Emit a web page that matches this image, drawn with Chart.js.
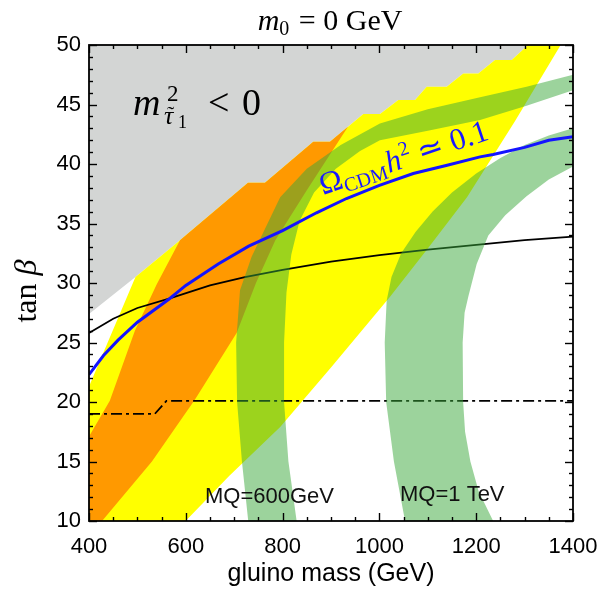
<!DOCTYPE html>
<html>
<head>
<meta charset="utf-8">
<script src="https://cdn.jsdelivr.net/npm/chart.js@4.4.1/dist/chart.umd.min.js"></script>
<style>
html,body{margin:0;padding:0;background:#fff;}
canvas{display:block;}
</style>
</head>
<body>
<canvas id="c" width="607" height="592"></canvas>
<script>
// ---------------- data (gluino mass [GeV], tan beta) ----------------
const xTickValues = [400, 600, 800, 1000, 1200, 1400];
const yTickValues = [10, 15, 20, 25, 30, 35, 40, 45, 50];
const xMinorStep = 50;
const yMinorStep = 1;

// m^2_stau < 0 excluded region (grey)
const excludedStauRegion = [
  [390, 51], [390, 27.1], [400, 27.4], [496, 30.5], [588, 33.6], [728.5, 38.43], [763.6, 38.43],
  [863.4, 41.87], [897.9, 41.87], [966.7, 44.2], [1001.2, 44.2], [1039, 45.38], [1073.6, 45.38],
  [1097.7, 46.5], [1139, 46.5], [1173.3, 47.6], [1204.3, 47.6], [1238.8, 48.74], [1273.3, 48.74],
  [1304.3, 49.9], [1306, 51]
];
// yellow region
const yellowRegion = [
  [390, 21.2], [400, 21.3], [496, 30.5], [588, 33.6], [728.5, 38.43], [763.6, 38.43],
  [863.4, 41.87], [897.9, 41.87], [966.7, 44.2], [1001.2, 44.2], [1039, 45.38], [1073.6, 45.38],
  [1097.7, 46.5], [1139, 46.5], [1173.3, 47.6], [1204.3, 47.6], [1238.8, 48.74], [1273.3, 48.74],
  [1304.3, 49.9], [1306, 51], [1380, 51], [1373, 49.9], [1280, 43.6], [1181, 37.2], [1100, 32.9],
  [1022, 28.85], [900, 22.9], [795, 17.9], [690, 13.8], [591.5, 9.66], [580, 9], [390, 9]
];
// orange region
const orangeRegion = [
  [390, 9], [390, 16.5], [400, 17.1], [443, 20.1], [495, 26.0], [540, 29.9], [588, 33.6],
  [728.5, 38.43], [763.6, 38.43], [863.4, 41.87], [897.9, 41.87], [935, 43.13],
  [850, 37.8], [785, 33.6], [745, 30.0], [705, 25.8], [619, 20.2], [530, 15.0], [427, 10], [420, 9]
];
// MQ = 600 GeV band
const mq600Band = [
  [733, 9], [729, 10], [716, 15], [706, 20], [704, 25], [712, 29.4], [736, 32.2], [763, 34.5],
  [795, 37.2], [850, 39.6], [920, 41.6], [1001, 43.4], [1100, 44.6], [1208, 45.6], [1304, 46.5],
  [1400, 47.5], [1410, 47.6],
  [1410, 46.3], [1400, 46.2], [1304, 44.9], [1208, 43.7], [1100, 42.8], [1001, 42.0], [960, 41.1],
  [910, 39.6], [865, 37.6], [835, 35.2], [818, 32.4], [808, 29.2], [803, 25], [803, 20],
  [812, 15], [829, 10], [833, 9]
];
// MQ = 1 TeV band
const mq1000Band = [
  [1057, 9], [1053, 10], [1030, 15], [1014, 20], [1011, 25], [1015, 28.5], [1025, 30.5],
  [1045, 32.5], [1075, 34.3], [1110, 36.0], [1150, 37.6], [1200, 39.2], [1250, 40.5],
  [1300, 41.6], [1350, 42.4], [1400, 43.0], [1410, 43.1],
  [1410, 39.9], [1400, 39.8], [1350, 38.7], [1304, 37.3], [1260, 35.7], [1225, 34.0],
  [1201, 31.6], [1184, 28.9], [1176, 27.5], [1172, 25], [1173, 20], [1177, 17.5], [1188, 15],
  [1205, 12.5], [1235, 10], [1240, 9]
];
// Omega h^2 ~ 0.1 curve (blue)
const relicDensityCurve = [
  [400, 22.3], [430, 23.9], [460, 25.2], [500, 26.7], [567, 28.7], [600, 29.8], [667, 31.6],
  [730, 33.1], [800, 34.4], [870, 35.9], [932, 37.1], [1000, 38.2], [1070, 39.2], [1140, 39.9],
  [1208, 40.6], [1235, 40.8], [1300, 41.4], [1350, 42.0], [1400, 42.3]
];
// black solid curve
const blackCurve = [
  [400, 25.8], [450, 27.0], [500, 27.9], [567, 28.7], [650, 29.8], [722, 30.5], [800, 31.1],
  [900, 31.8], [1000, 32.35], [1100, 32.8], [1200, 33.2], [1300, 33.6], [1400, 33.9]
];
// dash-dotted curve
const dashDotCurve = [[400, 19.0], [536, 19.0], [560, 20.1], [1400, 20.1]];

// ---------------- chart ----------------
const toXY = a => a.map(([x, y]) => ({x, y}));
const GREEN = 'rgba(58,168,58,0.5)';

function region(data, color, order) {
  return {data: toXY(data), showLine: true, fill: 'shape', backgroundColor: color,
          borderColor: 'rgba(0,0,0,0)', borderWidth: 0, pointRadius: 0, order};
}
function curve(data, color, width, order, dash) {
  return {data: toXY(data), showLine: true, fill: false, borderColor: color, borderWidth: width,
          pointRadius: 0, order, borderDash: dash || [], borderCapStyle: 'butt'};
}

const SERIF = '"Liberation Serif", "Times New Roman", serif';
const SANS = '"Liberation Sans", Arial, sans-serif';

function drawParts(ctx, x, y, parts, align) {
  let w = 0;
  for (const p of parts) { ctx.font = p.font; w += ctx.measureText(p.t).width + (p.dx || 0); }
  let cx = align === 'center' ? x - w / 2 : x;
  for (const p of parts) {
    ctx.font = p.font;
    cx += (p.dx || 0);
    ctx.fillText(p.t, cx, y + (p.dy || 0));
    cx += ctx.measureText(p.t).width;
  }
  return w;
}

const decor = {
  id: 'decor',
  afterDraw(chart) {
    const {ctx, chartArea: a, scales: {x, y}} = chart;
    ctx.save();
    ctx.strokeStyle = '#000';
    ctx.lineWidth = 1.4;
    const seg = (x1, y1, x2, y2) => { ctx.beginPath(); ctx.moveTo(x1, y1); ctx.lineTo(x2, y2); ctx.stroke(); };
    for (let v = xTickValues[0]; v <= xTickValues[xTickValues.length - 1]; v += xMinorStep) {
      const p = Math.round(x.getPixelForValue(v)) + 0.5;
      const L = xTickValues.includes(v) ? 8 : 4;
      seg(p, a.bottom, p, a.bottom - L); seg(p, a.top, p, a.top + L);
    }
    for (let v = yTickValues[0]; v <= yTickValues[yTickValues.length - 1]; v += yMinorStep) {
      const p = Math.round(y.getPixelForValue(v)) + 0.5;
      const L = yTickValues.includes(v) ? 8 : 4;
      seg(a.left, p, a.left + L, p); seg(a.right, p, a.right - L, p);
    }
    ctx.lineWidth = 1.8;
    ctx.strokeRect(a.left, a.top, a.right - a.left, a.bottom - a.top);

    ctx.fillStyle = '#000';
    ctx.textBaseline = 'alphabetic';
    ctx.textAlign = 'left';
    // title  m_0 = 0 GeV
    drawParts(ctx, 330, 30, [
      {t: 'm', font: `italic 30px ${SERIF}`},
      {t: '0', font: `20px ${SERIF}`, dy: 5},
      {t: ' = 0 ', font: `30px ${SERIF}`, dx: 2},
      {t: 'GeV', font: `30px ${SERIF}`}
    ], 'center');

    // y title tan beta
    ctx.save();
    ctx.translate(36, 291);
    ctx.rotate(-Math.PI / 2);
    drawParts(ctx, 0, 0, [
      {t: 'tan ', font: `32px ${SERIF}`},
      {t: 'β', font: `italic 32px ${SERIF}`}
    ], 'center');
    ctx.restore();

    // m^2_{stau1} < 0
    ctx.font = `italic 38px ${SERIF}`;
    ctx.fillText('m', 133, 114.5);
    ctx.font = `23px ${SERIF}`;
    ctx.fillText('2', 167, 100.5);
    ctx.font = `italic 26px ${SERIF}`;
    ctx.fillText('τ', 164, 123.5);
    ctx.font = `22px ${SERIF}`;
    ctx.fillText('˜', 167, 121);
    ctx.font = `18px ${SERIF}`;
    ctx.fillText('1', 178, 127.5);
    ctx.font = `38px ${SERIF}`;
    ctx.fillText('<', 208, 114.5);
    ctx.fillText('0', 242, 114.5);

    // Omega label
    ctx.save();
    ctx.fillStyle = '#1a1aff';
    ctx.translate(323, 195);
    ctx.rotate(-18.5 * Math.PI / 180);
    drawParts(ctx, 0, 0, [
      {t: 'Ω', font: `31px ${SERIF}`},
      {t: 'CDM', font: `20px ${SERIF}`, dy: 5},
      {t: 'h', font: `italic 31px ${SERIF}`, dx: 1},
      {t: '2', font: `20px ${SERIF}`, dy: -12, dx: 1},
      {t: ' ≃ 0.1', font: `31px ${SERIF}`}
    ], 'left');
    ctx.restore();

    // MQ labels
    ctx.fillStyle = '#111';
    ctx.font = `22px ${SANS}`;
    ctx.fillText('MQ=600GeV', 205, 503);
    ctx.fillText('MQ=1 TeV', 400, 501);
    ctx.restore();
  }
};

new Chart(document.getElementById('c'), {
  type: 'scatter',
  data: {
    datasets: [
      curve(relicDensityCurve, '#1414ff', 3, 1),
      region(mq600Band, GREEN, 4),
      region(mq1000Band, GREEN, 4),
      curve(blackCurve, '#000', 1.8, 5),
      curve(dashDotCurve, '#000', 1.8, 5, [11, 4, 3, 4]),
      region(orangeRegion, '#ff9900', 7),
      region(yellowRegion, '#ffff00', 8),
      region(excludedStauRegion, '#d3d5d4', 9)
    ]
  },
  options: {
    responsive: false,
    animation: false,
    devicePixelRatio: 1,
    layout: {padding: {left: 0, right: 34, top: 45, bottom: 0}},
    plugins: {legend: {display: false}, tooltip: {enabled: false}},
    scales: {
      x: {
        type: 'linear', min: 400, max: 1400,
        grid: {display: false, drawTicks: false},
        border: {display: false},
        afterBuildTicks: s => { s.ticks = xTickValues.map(v => ({value: v})); },
        afterFit: s => { s.height = 71; s.paddingLeft = 0; s.paddingRight = 0; },
        ticks: {autoSkip: false, maxRotation: 0, padding: 13, color: '#000',
                font: {family: SANS, size: 22}, callback: v => String(v)},
        title: {display: true, text: 'gluino mass (GeV)', color: '#000',
                font: {family: SANS, size: 25}, padding: {top: 0, bottom: 3}}
      },
      y: {
        type: 'linear', min: 10, max: 50,
        grid: {display: false, drawTicks: false},
        border: {display: false},
        afterBuildTicks: s => { s.ticks = yTickValues.map(v => ({value: v})); },
        afterFit: s => { s.width = 89; s.paddingTop = 0; s.paddingBottom = 0; },
        ticks: {autoSkip: false, padding: 8, color: '#000',
                font: {family: SANS, size: 22}, callback: v => String(v)}
      }
    }
  },
  plugins: [decor]
});
</script>
</body>
</html>
